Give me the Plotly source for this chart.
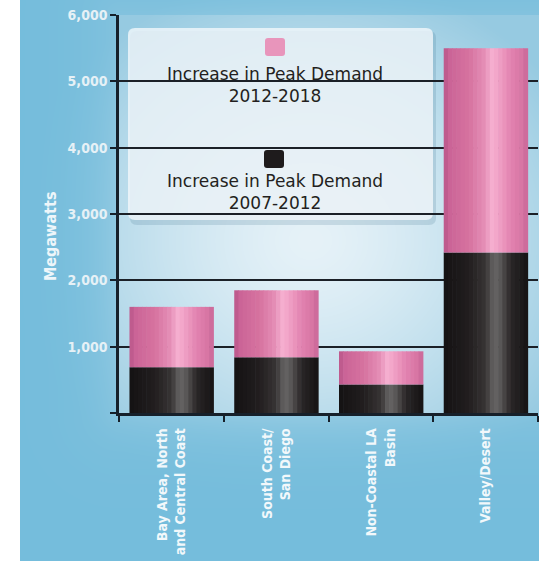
import base64
import struct
import zlib

import numpy as np
import plotly.graph_objects as go

# ---- data -----------------------------------------------------------------
regions = [
    "Bay Area, North<br>and Central Coast",
    "South Coast/<br>San Diego",
    "Non-Coastal LA<br>Basin",
    "Valley/Desert",
]
increase_2007_2012 = [690, 840, 430, 2420]
increase_2012_2018 = [910, 1010, 500, 3080]
series_labels = [
    "Increase in Peak Demand<br>2012-2018",
    "Increase in Peak Demand<br>2007-2012",
]
y_tick_values = [0, 1000, 2000, 3000, 4000, 5000, 6000]
y_tick_labels = ["", "1,000", "2,000", "3,000", "4,000", "5,000", "6,000"]
y_axis_title = "Megawatts"

# ---- geometry -------------------------------------------------------------
W, H = 539, 561
L, R, T, B = 119, 1, 15, 148
PW, PH = W - L - R, H - T - B
COND = "DejaVu Sans Condensed, DejaVu Sans, sans-serif"


def px_x(px):
    return (px - L) / PW


def px_y(py):
    return (H - B - py) / PH


# ---- background: blue panel with a soft light glow behind the plot --------
def png_data_uri(rgb):
    h, w, _ = rgb.shape
    raw = b"".join(b"\x00" + rgb[i].tobytes() for i in range(h))

    def chunk(tag, data):
        body = tag + data
        return struct.pack(">I", len(data)) + body + struct.pack(">I", zlib.crc32(body) & 0xFFFFFFFF)

    png = (b"\x89PNG\r\n\x1a\n"
           + chunk(b"IHDR", struct.pack(">IIBBBBB", w, h, 8, 2, 0, 0, 0))
           + chunk(b"IDAT", zlib.compress(raw, 9))
           + chunk(b"IEND", b""))
    return "data:image/png;base64," + base64.b64encode(png).decode()


yy, xx = np.mgrid[0:H, 0:W].astype(float)
outer = np.array([117, 189, 220], float)
glow_c = np.array([230, 242, 248], float)
glow_e = np.array([150, 202, 225], float)
d = np.sqrt(((xx - 310) / 300.0) ** 2 + ((yy - 240) / 270.0) ** 2)
t = np.clip(d, 0, 1)[..., None] ** 1.4
glow = glow_c * (1 - t) + glow_e * t
dx = np.maximum(np.maximum(L - xx, xx - W), 0)
dy = np.maximum(np.maximum(T - yy, yy - (H - B)), 0)
dist = np.sqrt(dx ** 2 + dy ** 2)
mask = np.where(dist <= 0, 1.0, 0.45 * np.exp(-dist / 35.0))[..., None]
img = outer * (1 - mask) + glow * mask
img[:, :20] = 255
bg_uri = png_data_uri(np.clip(img, 0, 255).astype(np.uint8))

# ---- cylinder shading profiles (position across bar -> colour) ------------
pink_stops = [(0.0, (185, 86, 138)), (0.08, (204, 101, 152)), (0.3, (214, 114, 159)),
              (0.48, (228, 142, 182)), (0.58, (246, 176, 208)), (0.66, (240, 160, 197)),
              (0.8, (226, 131, 176)), (0.95, (214, 115, 162)), (1.0, (198, 100, 149))]
black_stops = [(0.0, (20, 18, 19)), (0.3, (34, 30, 31)), (0.5, (56, 53, 53)),
               (0.6, (104, 102, 102)), (0.68, (88, 86, 86)), (0.8, (42, 38, 39)),
               (1.0, (21, 19, 20))]


def shade(stops, f):
    for (p0, c0), (p1, c1) in zip(stops[:-1], stops[1:]):
        if p0 <= f <= p1:
            k = (f - p0) / (p1 - p0)
            c = [round(a + (b - a) * k) for a, b in zip(c0, c1)]
            return "rgb({},{},{})".format(*c)
    return "rgb({},{},{})".format(*stops[-1][1])


BAR_W = 0.8
N_STRIPES = 20
stripe = BAR_W / N_STRIPES

fig = go.Figure()

black_base = [0] * len(regions)
pink_base = list(increase_2007_2012)
for values, bases, stops in [(increase_2007_2012, black_base, black_stops),
                             (increase_2012_2018, pink_base, pink_stops)]:
    for i in range(N_STRIPES):
        f = (i + 0.5) / N_STRIPES
        fig.add_trace(go.Bar(
            x=regions, y=values, base=bases,
            width=stripe * 1.15, offset=-BAR_W / 2 + i * stripe,
            marker=dict(color=shade(stops, f), line=dict(width=0)),
            showlegend=False, hoverinfo="skip",
        ))

# ---- legend box, markers and labels ---------------------------------------
def rounded_rect(x0, y0, x1, y1, r):
    rx, ry = r / PW, r / PH
    a0, a1 = px_x(x0), px_x(x1)
    b0, b1 = px_y(y1), px_y(y0)
    return (f"M{a0+rx},{b0} L{a1-rx},{b0} Q{a1},{b0} {a1},{b0+ry} "
            f"L{a1},{b1-ry} Q{a1},{b1} {a1-rx},{b1} L{a0+rx},{b1} "
            f"Q{a0},{b1} {a0},{b1-ry} L{a0},{b0+ry} Q{a0},{b0} {a0+rx},{b0} Z")


shapes = [
    dict(type="path", xref="paper", yref="paper", layer="between",
         path=rounded_rect(130, 31, 436, 225, 7),
         fillcolor="rgba(60,110,140,0.18)", line=dict(width=0)),
    dict(type="path", xref="paper", yref="paper", layer="between",
         path=rounded_rect(128, 28, 433, 220, 7),
         fillcolor="rgba(243,248,251,0.8)", line=dict(width=0)),
]
legend_colors = [shade(pink_stops, 0.5), "rgb(30,27,28)"]
marker_centers = [(275, 47), (274, 159)]
text_centers = [(275, 85), (275, 192)]
annotations = []
for label, color, (mx, my), (tx, ty) in zip(series_labels, legend_colors, marker_centers, text_centers):
    shapes.append(dict(type="path", xref="paper", yref="paper", layer="above",
                       path=rounded_rect(mx - 10, my - 9, mx + 10, my + 9, 3),
                       fillcolor=color, line=dict(width=0)))
    annotations.append(dict(xref="paper", yref="paper", x=px_x(tx), y=px_y(ty),
                            text=label, showarrow=False, xanchor="center", yanchor="middle",
                            font=dict(family="DejaVu Sans, sans-serif", size=17, color="#231f20")))

annotations.append(dict(xref="paper", yref="paper", x=px_x(50), y=px_y(237),
                        xanchor="center", yanchor="middle",
                        text=f"<b>{y_axis_title}</b>", textangle=-90, showarrow=False,
                        font=dict(family=COND, size=16, color="#eef6fa")))

fig.update_layout(
    width=W, height=H,
    margin=dict(l=L, r=R, t=T, b=B, autoexpand=False),
    paper_bgcolor="rgba(0,0,0,0)", plot_bgcolor="rgba(0,0,0,0)",
    barmode="overlay",
    showlegend=False,
    images=[dict(source=bg_uri, xref="paper", yref="paper",
                 x=-L / PW, y=1 + T / PH, sizex=W / PW, sizey=H / PH,
                 xanchor="left", yanchor="top", sizing="stretch", layer="below")],
    shapes=shapes,
    annotations=annotations,
    xaxis=dict(
        type="category", range=[-0.5, len(regions) - 0.5],
        showline=True, linecolor="#16202a", linewidth=2.5,
        ticks="outside", tickson="boundaries", ticklen=6, tickwidth=2, tickcolor="#16202a",
        tickangle=-90, showgrid=False, ticklabelstandoff=7,
        tickfont=dict(family=COND, size=14, color="#f2f8fb", weight="bold"),
    ),
    yaxis=dict(
        range=[0, 6000], tickvals=y_tick_values, ticktext=y_tick_labels,
        showline=True, linecolor="#16202a", linewidth=2.5,
        ticks="outside", ticklen=6, tickwidth=2, tickcolor="#16202a",
        showgrid=True, gridcolor="#1b2027", gridwidth=2, zeroline=False,
        tickfont=dict(family=COND, size=14, color="#e6f1f6", weight="bold"),
    ),
)

fig.write_html("out.html")
